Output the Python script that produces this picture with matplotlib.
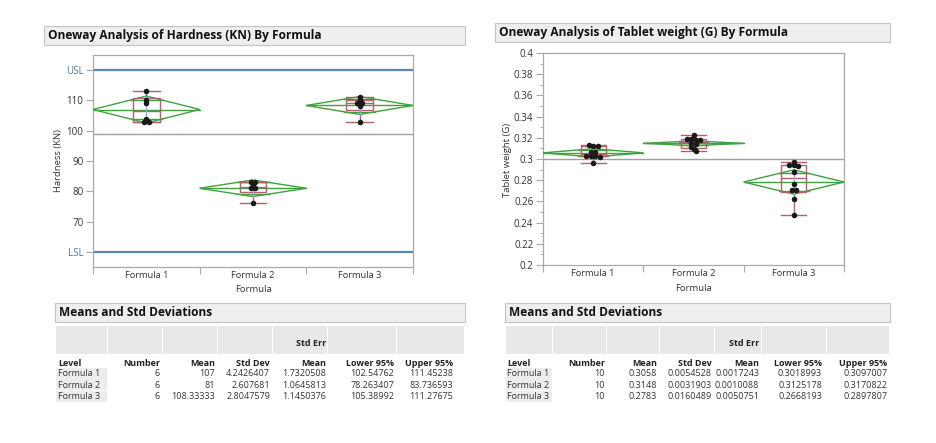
import numpy as np
import matplotlib
matplotlib.use('Agg')
import matplotlib.pyplot as plt
from matplotlib.patches import Rectangle, Polygon

plt.rcParams['font.family'] = ['Open Sans', 'DejaVu Sans']

# ---------------- data ----------------
levels = ['Formula 1', 'Formula 2', 'Formula 3']

hard_f1 = [113, 110, 109, 104, 103, 103]
hard_f2 = [83, 83, 82, 81, 81, 76]
hard_f3 = [111, 110, 109, 109, 108, 103]
hard_mean = [107, 81, 108.33333]
hard_lo95 = [102.54762, 78.263407, 105.38992]
hard_hi95 = [111.45238, 83.736593, 111.27675]
hard_usl = 120
hard_lsl = 60

wt_f1 = [0.313, 0.312, 0.312, 0.307, 0.307, 0.303, 0.303, 0.303, 0.302, 0.296]
wt_f2 = [0.323, 0.319, 0.319, 0.318, 0.318, 0.315, 0.314, 0.311, 0.309, 0.308]
wt_f3 = [0.297, 0.294, 0.294, 0.293, 0.288, 0.276, 0.271, 0.271, 0.262, 0.247]
wt_mean = [0.3058, 0.3148, 0.2783]
wt_lo95 = [0.3018993, 0.3125178, 0.2668193]
wt_hi95 = [0.3097007, 0.3170822, 0.2897807]

table_cols = ['Level', 'Number', 'Mean', 'Std Dev', 'Std Err\nMean', 'Lower 95%', 'Upper 95%']
hard_table = [
    ['Formula 1', '6', '107', '4.2426407', '1.7320508', '102.54762', '111.45238'],
    ['Formula 2', '6', '81', '2.607681', '1.0645813', '78.263407', '83.736593'],
    ['Formula 3', '6', '108.33333', '2.8047579', '1.1450376', '105.38992', '111.27675'],
]
wt_table = [
    ['Formula 1', '10', '0.3058', '0.0054528', '0.0017243', '0.3018993', '0.3097007'],
    ['Formula 2', '10', '0.3148', '0.0031903', '0.0010088', '0.3125178', '0.3170822'],
    ['Formula 3', '10', '0.2783', '0.0160489', '0.0050751', '0.2668193', '0.2897807'],
]

# ---------------- figure ----------------
W, H = 936, 443
fig = plt.figure(figsize=(W / 100, H / 100), dpi=100)
fig.patch.set_facecolor('white')


def fx(x):
    return x / W


def fy(y):
    return 1 - y / H


GREEN = '#3ea23e'
BOXC = '#b5606e'
DOT = '#1a1a1a'
SPINE = '#a8a8a8'
TXT = '#333333'
BLUE = '#5a86b8'


def header(x0, x1, y0, y1, text, size=8.6):
    fig.patches.append(Rectangle((fx(x0), fy(y1)), fx(x1) - fx(x0), fy(y0) - fy(y1),
                                 transform=fig.transFigure, facecolor='#eeeeee',
                                 edgecolor='#c4c4c4', lw=0.8))
    fig.text(fx(x0 + 4), fy((y0 + y1) / 2 + 3.5), text, fontsize=size, fontweight='bold',
             ha='left', va='baseline', color='#111111')


def oneway(ax, groups, means, lo, hi, box_w):
    for i, vals in enumerate(groups):
        v = np.array(vals, dtype=float)
        cx = i + 0.5
        m, l, h = means[i], lo[i], hi[i]
        ax.add_patch(Polygon([(i, m), (cx, h), (i + 1, m), (cx, l)], closed=True,
                             fill=False, edgecolor=GREEN, lw=1.0, zorder=3))
        ax.plot([i, i + 1], [m, m], color=GREEN, lw=1.0, zorder=3)
        d = (h - m) / np.sqrt(2)
        w = 0.5 * (1 - d / (h - m))
        for yy in (m + d, m - d):
            ax.plot([cx - w, cx + w], [yy, yy], color=GREEN, lw=1.0, zorder=3)
        q1, med, q3 = np.percentile(v, [25, 50, 75], method='weibull')
        iqr = q3 - q1
        up = v[v <= q3 + 1.5 * iqr].max()
        dn = v[v >= q1 - 1.5 * iqr].min()
        ax.add_patch(Rectangle((cx - box_w / 2, q1), box_w, q3 - q1, fill=False,
                               edgecolor=BOXC, lw=1.0, zorder=4))
        ax.plot([cx - box_w / 2, cx + box_w / 2], [med, med], color=BOXC, lw=1.0, zorder=4)
        ax.plot([cx, cx], [q3, up], color=BOXC, lw=1.0, zorder=4)
        ax.plot([cx, cx], [q1, dn], color=BOXC, lw=1.0, zorder=4)
        ax.plot([cx - box_w / 2, cx + box_w / 2], [up, up], color=BOXC, lw=1.0, zorder=4)
        ax.plot([cx - box_w / 2, cx + box_w / 2], [dn, dn], color=BOXC, lw=1.0, zorder=4)
        ax.plot([cx, cx], [l, h], color='#7fb2e0', lw=0.9, zorder=4)
        # points, spread sideways when they coincide
        rng = (ax.get_ylim()[1] - ax.get_ylim()[0]) * 0.012
        offs = np.zeros(len(v))
        for j, val in enumerate(v):
            same = [idx for idx, u in enumerate(v) if abs(u - val) < rng]
            n = len(same)
            pos = same.index(j)
            offs[j] = (pos - (n - 1) / 2) * 0.045
        ax.scatter(cx + offs, v, s=16, color=DOT, zorder=6, linewidths=0)


def style_axes(ax):
    for s in ax.spines.values():
        s.set_color(SPINE)
        s.set_linewidth(0.9)
    ax.set_xlim(0, 3)
    ax.set_xticks([0, 1, 2, 3])
    ax.set_xticklabels([])
    ax.set_xticks([0.5, 1.5, 2.5], minor=True)
    ax.set_xticklabels(levels, minor=True)
    ax.tick_params(axis='x', which='major', length=5, color=SPINE, direction='out')
    ax.tick_params(axis='x', which='minor', length=0, pad=3, labelsize=6.7, labelcolor=TXT)
    ax.tick_params(axis='y', which='both', color=SPINE, direction='out', labelsize=7.0,
                   labelcolor=TXT, pad=2)
    ax.tick_params(axis='y', which='major', length=5)
    ax.tick_params(axis='y', which='minor', length=2.5)


# ---------------- left chart ----------------
header(44, 465, 26, 45, 'Oneway Analysis of Hardness (KN) By Formula')
ax1 = fig.add_axes([fx(93), fy(267), fx(413) - fx(93), fy(55) - fy(267)])
ax1.set_ylim(55, 125)
style_axes(ax1)
ax1.axhline(hard_usl, color=BLUE, lw=1.6, zorder=2)
ax1.axhline(hard_lsl, color=BLUE, lw=1.6, zorder=2)
allh = np.concatenate([hard_f1, hard_f2, hard_f3])
ax1.axhline(allh.mean(), color='#a0a0a0', lw=1.0, zorder=2)
oneway(ax1, [hard_f1, hard_f2, hard_f3], hard_mean, hard_lo95, hard_hi95, 0.25)
yt = [hard_lsl, 70, 80, 90, 100, 110, hard_usl]
ax1.set_yticks(yt)
ax1.set_yticklabels(['LSL', '70', '80', '90', '100', '110', 'USL'])
for lab in ax1.get_yticklabels():
    if lab.get_text() in ('LSL', 'USL'):
        lab.set_color('#4a76b0')
fig.text(fx(58), fy(161), 'Hardness (KN)', rotation=90, fontsize=6.8, color=TXT,
         ha='center', va='center')
fig.text(fx(254), fy(292), 'Formula', fontsize=6.8, color=TXT, ha='center', va='baseline')

# ---------------- right chart ----------------
header(495, 890, 23, 42, 'Oneway Analysis of Tablet weight (G) By Formula')
ax2 = fig.add_axes([fx(543), fy(265), fx(844) - fx(543), fy(53) - fy(265)])
ax2.set_ylim(0.2, 0.4)
style_axes(ax2)
allw = np.concatenate([wt_f1, wt_f2, wt_f3])
ax2.axhline(allw.mean(), color='#a0a0a0', lw=1.0, zorder=2)
oneway(ax2, [wt_f1, wt_f2, wt_f3], wt_mean, wt_lo95, wt_hi95, 0.25)
yt2 = np.round(np.arange(0.2, 0.4001, 0.02), 2)
ax2.set_yticks(yt2)
ax2.set_yticklabels([f'{t:g}' for t in yt2])
ax2.set_yticks(np.round(np.arange(0.21, 0.4, 0.02), 2), minor=True)
fig.text(fx(508), fy(160), 'Tablet weight (G)', rotation=90, fontsize=6.8, color=TXT,
         ha='center', va='center')
fig.text(fx(694), fy(291), 'Formula', fontsize=6.8, color=TXT, ha='center', va='baseline')


# ---------------- tables ----------------
def table(x0, x1, seps, rights, level_x, rows):
    header(x0, x1, 303, 322, 'Means and Std Deviations', size=8.6)
    edges = [x0 + 1] + seps + [x1]
    for a, b in zip(edges[:-1], edges[1:]):
        fig.patches.append(Rectangle((fx(a), fy(354)), fx(b - 1) - fx(a), fy(326) - fy(354),
                                     transform=fig.transFigure, facecolor='#e8e8e8',
                                     edgecolor='none'))
    for r in range(3):
        yc = 373 + r * 11.5
        fig.patches.append(Rectangle((fx(edges[0]), fy(yc + 5.5)), fx(edges[1] - 1) - fx(edges[0]),
                                     fy(yc - 5.5) - fy(yc + 5.5), transform=fig.transFigure,
                                     facecolor='#ececec', edgecolor='none'))
    fs = 6.5
    for c, name in enumerate(table_cols):
        if c == 0:
            fig.text(fx(level_x), fy(365.5), name, fontsize=fs, fontweight='bold', ha='left',
                     va='baseline', color='#222222')
        else:
            parts = name.split('\n')
            if len(parts) == 2:
                fig.text(fx(rights[c - 1]), fy(346.5), parts[0], fontsize=fs, fontweight='bold',
                         ha='right', va='baseline', color='#222222')
                fig.text(fx(rights[c - 1]), fy(365.5), parts[1], fontsize=fs, fontweight='bold',
                         ha='right', va='baseline', color='#222222')
            else:
                fig.text(fx(rights[c - 1]), fy(365.5), name, fontsize=fs, fontweight='bold',
                         ha='right', va='baseline', color='#222222')
    for r, row in enumerate(rows):
        yc = 373 + r * 11.5
        for c, val in enumerate(row):
            if c == 0:
                fig.text(fx(level_x), fy(yc + 3.3), val, fontsize=fs, ha='left', va='baseline',
                         color='#333333')
            else:
                fig.text(fx(rights[c - 1]), fy(yc + 3.3), val, fontsize=fs, ha='right',
                         va='baseline', color='#333333')


table(55, 465, [108, 163, 218, 273, 328, 397], [160, 215, 270, 326, 394, 453], 58, hard_table)
table(505, 890, [553, 607, 660, 715, 762, 827], [605, 657, 712, 759, 822, 887], 507, wt_table)

fig.savefig('out.png', dpi=100, facecolor='white')
